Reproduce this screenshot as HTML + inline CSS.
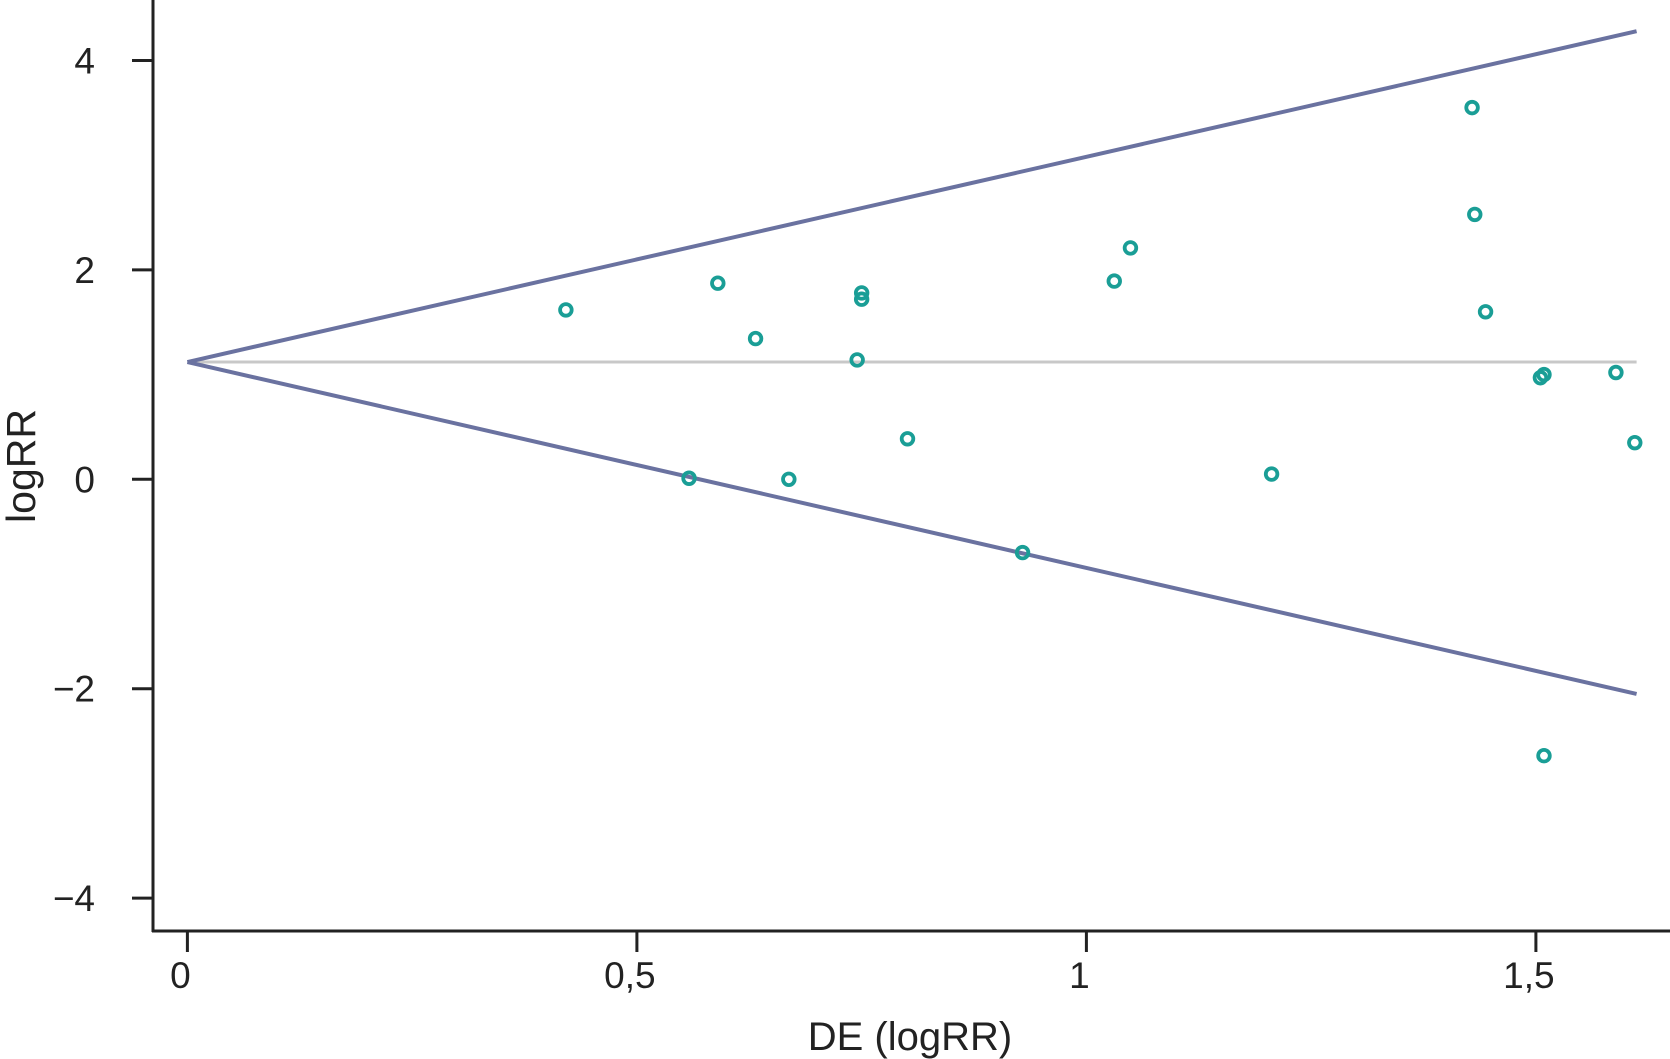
<!DOCTYPE html>
<html><head><meta charset="utf-8"><style>
html,body{margin:0;padding:0;background:#fff;}
svg{display:block;font-family:"Liberation Sans",sans-serif;}
</style></head><body>
<svg id="chart" width="1670" height="1059" viewBox="0 0 1670 1059">
<g id="axes"></g>
<g id="lines"></g>
<g id="points"></g>
<text x="910" y="1050" font-size="40" text-anchor="middle" fill="#222">DE (logRR)</text>
<text transform="translate(35,466) rotate(-90)" font-size="41" text-anchor="middle" fill="#222">logRR</text>
</svg>
<script>
const xTicks = [0, 0.5, 1, 1.5];
const xTickLabels = ["0", "0,5", "1", "1,5"];
const yTicks = [4, 2, 0, -2, -4];
const yTickLabels = ["4", "2", "0", "\u22122", "\u22124"];
const pointsX = [0.421,0.590,0.632,0.750,0.750,0.745,0.558,0.669,0.801,0.929,1.031,1.049,1.206,1.429,1.432,1.444,1.505,1.509,1.589,1.610,1.509];
const pointsY = [1.618,1.873,1.344,1.78,1.72,1.14,0.01,0.0,0.387,-0.70,1.893,2.21,0.05,3.55,2.53,1.60,0.97,1.0,1.02,0.35,-2.64];
const pooled = 1.12;
const funnelEndX = 1.612;
const upperEndY = 4.28;
const lowerEndY = -2.05;

const NS = "http://www.w3.org/2000/svg";
const xs = v => 187.4 + v * 899;
const ys = v => 479.3 - v * 104.7;
function mk(tag, attrs, parent){const e=document.createElementNS(NS,tag);for(const k in attrs)e.setAttribute(k,attrs[k]);parent.appendChild(e);return e;}

const axes = document.getElementById('axes');
let e = mk('line',{x1:153,y1:0,x2:153,y2:932,stroke:'#222','stroke-width':3},axes);


e = mk('line',{x1:152,y1:931,x2:1670,y2:931,stroke:'#222','stroke-width':3},axes);


yTicks.forEach((t,i)=>{
  const y = ys(t);
  const tk = mk('line',{x1:132,y1:y,x2:153,y2:y,stroke:'#222','stroke-width':3},axes);
  
  
  const lb = mk('text',{x:95,y:y+13,'font-size':37,'text-anchor':'end',fill:'#222'},axes);
  lb.textContent = yTickLabels[i];
  
  
});
xTicks.forEach((t,i)=>{
  const x = xs(t);
  const tk = mk('line',{x1:x,y1:931,x2:x,y2:952,stroke:'#222','stroke-width':3},axes);
  
  
  const lb = mk('text',{x:x-7,y:988,'font-size':37,'text-anchor':'middle',fill:'#222'},axes);
  lb.textContent = xTickLabels[i];
  
  
});

const lines = document.getElementById('lines');
e = mk('line',{x1:xs(0),y1:ys(pooled),x2:xs(funnelEndX),y2:ys(pooled),stroke:'#c8c8c8','stroke-width':3},lines);


e = mk('line',{x1:xs(0),y1:ys(pooled),x2:xs(funnelEndX),y2:ys(upperEndY),stroke:'#6a72a0','stroke-width':4},lines);


e = mk('line',{x1:xs(0),y1:ys(pooled),x2:xs(funnelEndX),y2:ys(lowerEndY),stroke:'#6a72a0','stroke-width':4},lines);



const pts = document.getElementById('points');
pointsX.forEach((x,i)=>{
  const c = mk('circle',{cx:xs(x),cy:ys(pointsY[i]),r:5.8,fill:'none',stroke:'#1a9e96','stroke-width':3.8},pts);
  
  
});
</script>
</body></html>
